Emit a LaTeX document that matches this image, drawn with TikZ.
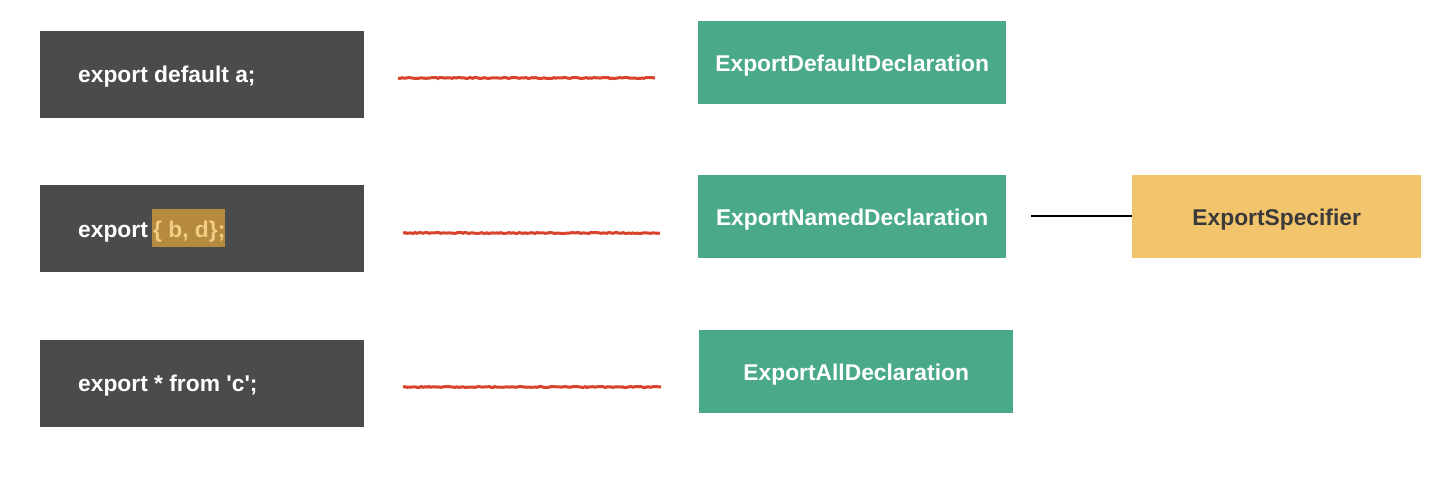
\documentclass[tikz,border=0pt]{standalone}
\usepackage{fontspec}
\setmainfont{Liberation Sans}[Ligatures=TeXOff]
\usetikzlibrary{decorations.pathmorphing}
\definecolor{darkbox}{HTML}{4A4B4C}
\definecolor{greenbox}{HTML}{4BA98B}
\definecolor{yellowbox}{HTML}{F2C46B}
\definecolor{redline}{HTML}{D8442B}
\definecolor{hlbg}{HTML}{B58A3F}
\definecolor{hltext}{HTML}{F3CD85}
\definecolor{darktext}{HTML}{3A3A3A}
\begin{document}
\begin{tikzpicture}[x=1pt,y=-1pt,
  boxfont/.style={font=\fontsize{22.8}{26}\selectfont\bfseries},
  codebox/.style={fill=darkbox, draw=none, minimum width=324pt, minimum height=87pt, anchor=north west, inner sep=0pt},
  codetext/.style={boxfont, text=white, anchor=west, inner sep=0pt},
  greennode/.style={boxfont, fill=greenbox, draw=none, minimum height=83pt, anchor=north west, text=white, inner sep=0pt, text height=20pt, text depth=1.6pt},
  yellownode/.style={boxfont, fill=yellowbox, draw=none, minimum height=83pt, anchor=north west, text=darktext, inner sep=0pt, text height=20pt, text depth=1.6pt},
  redconn/.style={redline, line width=3pt, decorate, decoration={random steps, segment length=2pt, amplitude=0.5pt}},
  blackconn/.style={black, line width=1.2pt}]
\useasboundingbox (0,0) rectangle (1451,479);
\fill[white] (0,0) rectangle (1451,479);
% code boxes
\node[codebox] (c1) at (40,31) {};
\node[codebox] (c2) at (40,185) {};
\node[codebox] (c3) at (40,340) {};
\node[codetext] (t1) at (78,77) {export default a;};
\node[codetext] (t2) at (78,232) {export};
\node[fill=hlbg, anchor=west, inner sep=0pt, minimum height=38pt, minimum width=73pt] (hl) at (152,228) {};
\node[codetext, text=hltext, anchor=west] (t2b) at (153,232) {\{ b, d\};};
\node[codetext] (t3) at (78,386) {export * from 'c';};
% green nodes
\node[greennode, minimum width=308pt] (g1) at (698,21) {ExportDefaultDeclaration};
\node[greennode, minimum width=308pt] (g2) at (698,175) {ExportNamedDeclaration};
\node[greennode, minimum width=314pt] (g3) at (699,330) {ExportAllDeclaration};
\node[yellownode, minimum width=289pt] (y1) at (1132,175) {ExportSpecifier};
% connectors
\coordinate (r1a) at (398,78); \coordinate (r1b) at (655,78);
\coordinate (r2a) at (403,233); \coordinate (r2b) at (660,233);
\coordinate (r3a) at (403,387); \coordinate (r3b) at (661,387);
\draw[redconn] (r1a) -- (r1b);
\draw[redconn] (r2a) -- (r2b);
\draw[redconn] (r3a) -- (r3b);
\coordinate (b1) at (1031,216);
\draw[blackconn] (b1) -- (y1.west |- b1);
\end{tikzpicture}
\end{document}
